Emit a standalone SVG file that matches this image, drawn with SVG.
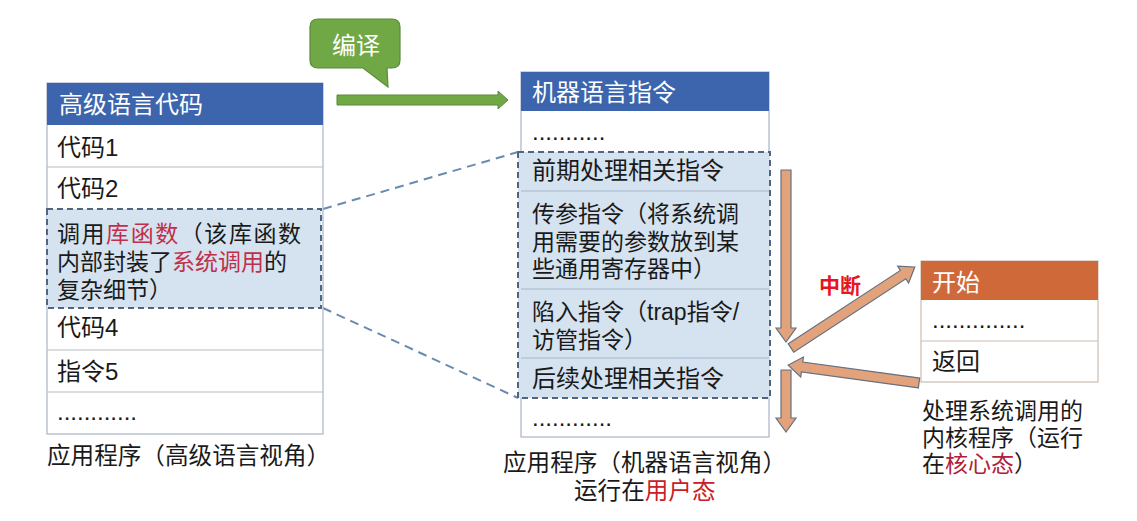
<svg xmlns="http://www.w3.org/2000/svg" width="1137" height="521" viewBox="0 0 1137 521">
<style>
text{font-family:"Liberation Sans","Noto Sans CJK SC",sans-serif;font-size:24px;fill:#1a1a1a}
.ml{font-size:23px}
.hdr{fill:#ffffff}
.red{fill:#c0304a}
.tbl{fill:#ffffff;stroke:#a9b4c8;stroke-width:1.2}
.sep{stroke:#b8bcc4;stroke-width:1.2}
.hl{fill:#d5e3f0;stroke:#4f6580;stroke-width:2;stroke-dasharray:6,4}
.sep2{stroke:#a8b8cc;stroke-width:1.2}
.dash{stroke:#6a8bb0;stroke-width:2;stroke-dasharray:9,6;fill:none}
.oarr{fill:#e2a27c;stroke:#667080;stroke-width:1.2}
.cap{font-size:23.6px}
</style>
<rect width="1137" height="521" fill="#ffffff"/>

<g id="connectors">
<line class="dash" x1="323" y1="209" x2="518" y2="152"/>
<line class="dash" x1="323" y1="308" x2="518" y2="398"/>
<polygon id="compile-arrow" points="337,95 498,95 498,91 508,100 498,109 498,105 337,105" fill="#70a845" stroke="#5b8a3a" stroke-width="1"/>
<polygon class="oarr" points="781,170 791,170 791,328 796,328 786,342 776,328 781,328"/>
<polygon class="oarr" points="781,370 791,370 791,418 796,418 786,432 776,418 781,418"/>
<polygon class="oarr" points="0,-5 134,-5 134,-10 148,0 134,10 134,5 0,5" transform="translate(791,348) rotate(-33.2)"/>
<polygon class="oarr" points="0,-5 118,-5 118,-10 132,0 118,10 118,5 0,5" transform="translate(919,383) rotate(-172.2)"/>
<text x="819" y="293" style="font-size:21px;font-weight:bold;fill:#e8141e">中断</text>
</g>

<g id="callout">
<path d="M318,19 H392 Q400,19 400,27 V60 Q400,68 392,68 H387 L388,87 L363,68 H318 Q310,68 310,60 V27 Q310,19 318,19 Z" fill="#70a845" stroke="#5b8a3a" stroke-width="1.2"/>
<text x="332" y="54" class="hdr">编译</text>
</g>

<g id="high-level">
<rect class="tbl" x="47" y="83" width="276" height="351"/>
<rect x="47" y="83" width="276" height="42" fill="#3c65ae"/>
<text x="59" y="113" class="hdr">高级语言代码</text>
<line class="sep" x1="47" y1="167" x2="323" y2="167"/>
<line class="sep" x1="47" y1="350" x2="323" y2="350"/>
<line class="sep" x1="47" y1="392" x2="323" y2="392"/>
<text x="57" y="156">代码1</text>
<text x="57" y="197">代码2</text>
<rect class="hl" x="47" y="209" width="274" height="99"/>
<text x="57" y="242" class="ml" textLength="244">调用<tspan class="red">库函数</tspan>（该库函数</text>
<text x="57" y="270" class="ml">内部封装了<tspan class="red">系统调用</tspan>的</text>
<text x="57" y="298" class="ml">复杂细节）</text>
<text x="57" y="336">代码4</text>
<text x="57" y="380">指令5</text>
<text x="57" y="420">............</text>
<text x="47" y="464" class="cap">应用程序（高级语言视角）</text>
</g>

<g id="machine-level">
<rect class="tbl" x="521" y="72" width="248" height="365"/>
<rect x="521" y="72" width="248" height="39" fill="#3c65ae"/>
<text x="532" y="101" class="hdr">机器语言指令</text>
<text x="532" y="140">...........</text>
<rect class="hl" x="518" y="152" width="252" height="246"/>
<line class="sep2" x1="521" y1="191" x2="769" y2="191"/>
<line class="sep2" x1="521" y1="289" x2="769" y2="289"/>
<line class="sep2" x1="521" y1="358" x2="769" y2="358"/>
<text x="532" y="179">前期处理相关指令</text>
<text x="532" y="222" class="ml">传参指令（将系统调</text>
<text x="532" y="250" class="ml">用需要的参数放到某</text>
<text x="532" y="277" class="ml">些通用寄存器中）</text>
<text x="532" y="320" class="ml">陷入指令（trap指令/</text>
<text x="532" y="348" class="ml">访管指令）</text>
<text x="532" y="387">后续处理相关指令</text>
<text x="532" y="426">............</text>
<text x="503" y="471" class="cap">应用程序（机器语言视角）</text>
<text x="574" y="499" class="cap">运行在<tspan style="fill:#c8202a">用户态</tspan></text>
</g>

<g id="kernel">
<rect x="921" y="261" width="177" height="121" fill="#ffffff" stroke="#cdbcb0" stroke-width="1.2"/>
<rect x="921" y="261" width="177" height="39" fill="#d0693a"/>
<text x="932" y="291" class="hdr">开始</text>
<line x1="921" y1="341" x2="1098" y2="341" stroke="#cdbcb0" stroke-width="1.2"/>
<text x="932" y="328">..............</text>
<text x="932" y="370">返回</text>
<text x="922" y="419" class="ml">处理系统调用的</text>
<text x="922" y="446" class="ml">内核程序（运行</text>
<text x="922" y="472" class="ml">在<tspan style="fill:#b0203a">核心态</tspan>）</text>
</g>
</svg>
